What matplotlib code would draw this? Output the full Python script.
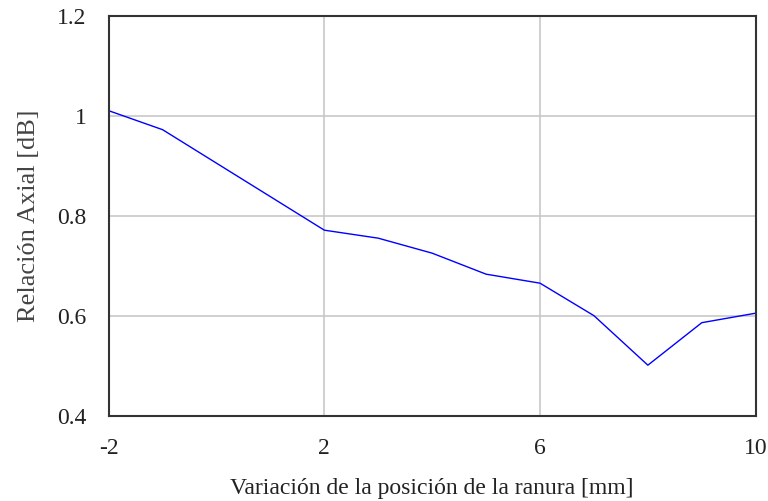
import matplotlib.pyplot as plt

# posición de la ranura [mm] y relación axial [dB]
posicion = [-2, -1, 0, 1, 2, 3, 4, 5, 6, 7, 8, 9, 10]
relacion_axial = [1.01, 0.972, 0.905, 0.838, 0.771, 0.755, 0.725, 0.683, 0.665, 0.600, 0.501, 0.586, 0.605]

xticks = [-2, 2, 6, 10]
yticks = [0.4, 0.6, 0.8, 1.0, 1.2]
ytick_labels = ['0.4', '0.6', '0.8', '1', '1.2']

plt.rcParams['font.family'] = ['Liberation Serif', 'DejaVu Serif']
plt.rcParams['axes.unicode_minus'] = False

fig = plt.figure(figsize=(7.68, 5.01), dpi=100)
ax = fig.add_axes([0.1415, 0.1703, 0.8425, 0.7984])

ax.plot(posicion, relacion_axial, color='#0000ff', linewidth=1.0)

ax.set_xlim(-2, 10)
ax.set_ylim(0.4, 1.2)
ax.set_xticks(xticks)
ax.set_yticks(yticks)
ax.set_yticklabels(ytick_labels)
ax.grid(True, color='#c8c8c8', linewidth=1.2)
ax.set_axisbelow(True)
ax.tick_params(length=0, labelsize=17, pad=16, colors='#222222')

for s in ax.spines.values():
    s.set_color('#333333')
    s.set_linewidth(1.5)

ax.set_xlabel('Variación de la posición de la ranura [mm]', fontsize=17, labelpad=14, color='#222222')
ax.set_ylabel('Relación Axial [dB]', fontsize=19, labelpad=12, color='#444444')

fig.savefig('out.png', dpi=100)
